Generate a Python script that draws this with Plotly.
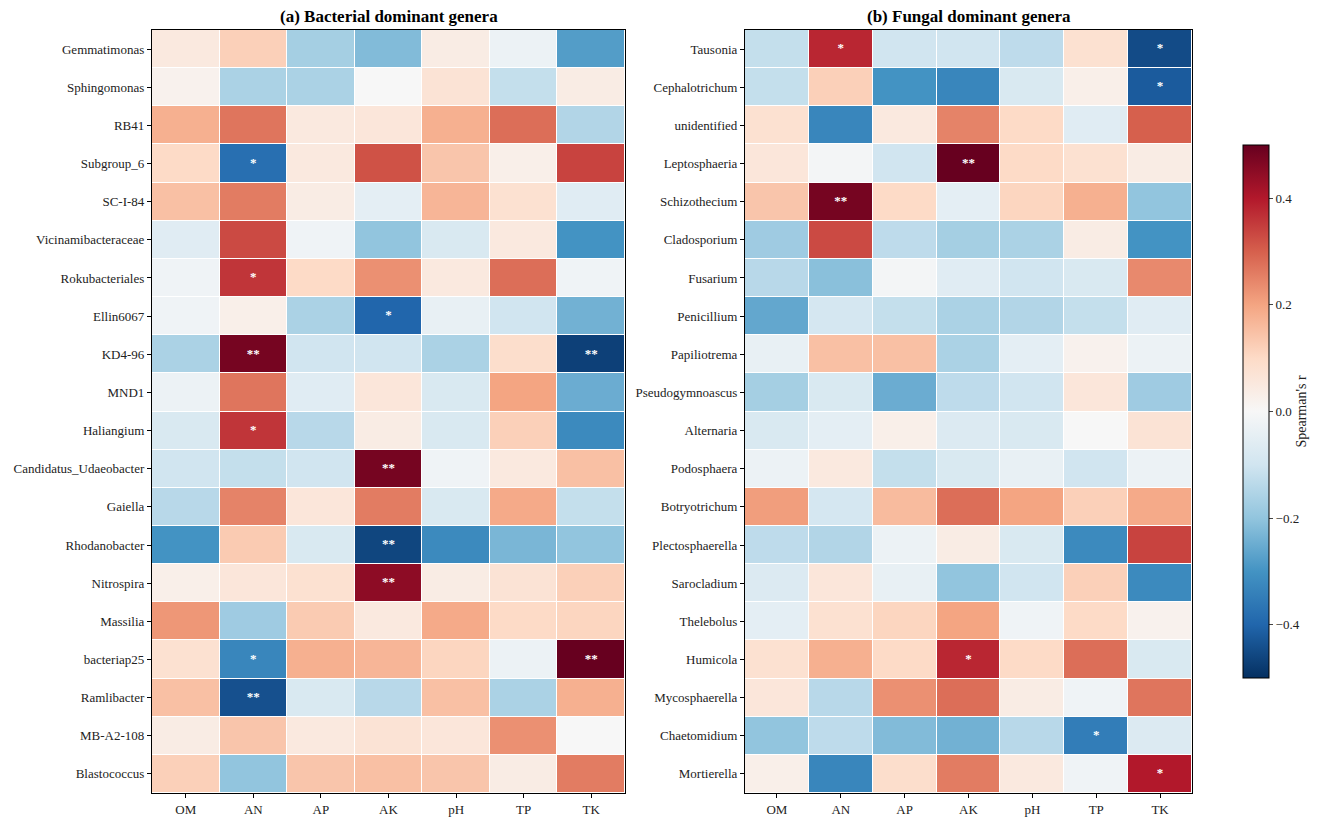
import plotly.graph_objects as go

factors = ["OM", "AN", "AP", "AK", "pH", "TP", "TK"]

bact_genera = ["Gemmatimonas", "Sphingomonas", "RB41", "Subgroup_6", "SC-I-84",
               "Vicinamibacteraceae", "Rokubacteriales", "Ellin6067", "KD4-96", "MND1",
               "Haliangium", "Candidatus_Udaeobacter", "Gaiella", "Rhodanobacter", "Nitrospira",
               "Massilia", "bacteriap25", "Ramlibacter", "MB-A2-108", "Blastococcus"]
bact_r = [
    [0.05, 0.12, -0.17, -0.22, 0.04, -0.03, -0.28],
    [0.02, -0.16, -0.16, 0.00, 0.07, -0.12, 0.04],
    [0.18, 0.27, 0.05, 0.06, 0.18, 0.28, -0.15],
    [0.10, -0.38, 0.05, 0.32, 0.14, 0.03, 0.34],
    [0.15, 0.26, 0.04, -0.05, 0.17, 0.08, -0.06],
    [-0.06, 0.33, -0.02, -0.20, -0.08, 0.05, -0.30],
    [-0.02, 0.36, 0.10, 0.23, 0.05, 0.28, -0.02],
    [-0.02, 0.03, -0.16, -0.40, -0.04, -0.10, -0.24],
    [-0.16, 0.48, -0.10, -0.10, -0.16, 0.09, -0.47],
    [-0.03, 0.27, -0.06, 0.06, -0.08, 0.20, -0.25],
    [-0.08, 0.36, -0.14, 0.04, -0.08, 0.12, -0.32],
    [-0.10, -0.12, -0.10, 0.48, -0.02, 0.05, 0.15],
    [-0.14, 0.25, 0.06, 0.26, -0.08, 0.19, -0.12],
    [-0.30, 0.13, -0.08, -0.46, -0.32, -0.23, -0.20],
    [0.03, 0.06, 0.08, 0.45, 0.04, 0.07, 0.12],
    [0.22, -0.18, 0.13, 0.05, 0.19, 0.10, 0.11],
    [0.08, -0.33, 0.18, 0.17, 0.11, -0.03, 0.50],
    [0.15, -0.44, -0.08, -0.14, 0.15, -0.16, 0.18],
    [0.04, 0.14, 0.05, 0.07, 0.06, 0.23, 0.00],
    [0.12, -0.20, 0.14, 0.15, 0.14, 0.04, 0.26],
]
bact_sig = [
    ["", "", "", "", "", "", ""],
    ["", "", "", "", "", "", ""],
    ["", "", "", "", "", "", ""],
    ["", "*", "", "", "", "", ""],
    ["", "", "", "", "", "", ""],
    ["", "", "", "", "", "", ""],
    ["", "*", "", "", "", "", ""],
    ["", "", "", "*", "", "", ""],
    ["", "**", "", "", "", "", "**"],
    ["", "", "", "", "", "", ""],
    ["", "*", "", "", "", "", ""],
    ["", "", "", "**", "", "", ""],
    ["", "", "", "", "", "", ""],
    ["", "", "", "**", "", "", ""],
    ["", "", "", "**", "", "", ""],
    ["", "", "", "", "", "", ""],
    ["", "*", "", "", "", "", "**"],
    ["", "**", "", "", "", "", ""],
    ["", "", "", "", "", "", ""],
    ["", "", "", "", "", "", ""],
]

fung_genera = ["Tausonia", "Cephalotrichum", "unidentified", "Leptosphaeria", "Schizothecium",
               "Cladosporium", "Fusarium", "Penicillium", "Papiliotrema", "Pseudogymnoascus",
               "Alternaria", "Podosphaera", "Botryotrichum", "Plectosphaerella", "Sarocladium",
               "Thelebolus", "Humicola", "Mycosphaerella", "Chaetomidium", "Mortierella"]
fung_r = [
    [-0.12, 0.38, -0.10, -0.10, -0.13, 0.08, -0.45],
    [-0.12, 0.12, -0.30, -0.33, -0.08, 0.03, -0.42],
    [0.08, -0.33, 0.05, 0.25, 0.10, -0.06, 0.30],
    [0.06, -0.01, -0.10, 0.50, 0.10, 0.08, 0.04],
    [0.14, 0.48, 0.10, -0.05, 0.11, 0.18, -0.20],
    [-0.18, 0.33, -0.13, -0.17, -0.16, 0.04, -0.30],
    [-0.14, -0.21, -0.01, -0.06, -0.10, -0.08, 0.24],
    [-0.26, -0.09, -0.12, -0.16, -0.15, -0.12, -0.06],
    [-0.04, 0.15, 0.15, -0.16, -0.05, 0.02, -0.03],
    [-0.17, -0.08, -0.25, -0.13, -0.10, 0.06, -0.18],
    [-0.08, -0.05, 0.03, -0.07, -0.08, 0.00, 0.07],
    [-0.03, 0.05, -0.12, -0.08, -0.04, -0.10, -0.03],
    [0.21, -0.09, 0.16, 0.28, 0.20, 0.12, 0.19],
    [-0.13, -0.15, -0.03, 0.04, -0.08, -0.32, 0.34],
    [-0.07, 0.06, -0.04, -0.20, -0.10, 0.12, -0.32],
    [-0.05, 0.08, 0.11, 0.20, -0.02, 0.10, 0.02],
    [0.08, 0.18, 0.10, 0.38, 0.10, 0.28, -0.08],
    [0.06, -0.14, 0.23, 0.28, 0.04, -0.02, 0.27],
    [-0.20, -0.13, -0.22, -0.24, -0.14, -0.35, -0.07],
    [0.03, -0.33, 0.09, 0.26, 0.05, -0.02, 0.40],
]
fung_sig = [
    ["", "*", "", "", "", "", "*"],
    ["", "", "", "", "", "", "*"],
    ["", "", "", "", "", "", ""],
    ["", "", "", "**", "", "", ""],
    ["", "**", "", "", "", "", ""],
    ["", "", "", "", "", "", ""],
    ["", "", "", "", "", "", ""],
    ["", "", "", "", "", "", ""],
    ["", "", "", "", "", "", ""],
    ["", "", "", "", "", "", ""],
    ["", "", "", "", "", "", ""],
    ["", "", "", "", "", "", ""],
    ["", "", "", "", "", "", ""],
    ["", "", "", "", "", "", ""],
    ["", "", "", "", "", "", ""],
    ["", "", "", "", "", "", ""],
    ["", "", "", "*", "", "", ""],
    ["", "", "", "", "", "", ""],
    ["", "", "", "", "", "*", ""],
    ["", "", "", "", "", "", "*"],
]

rdbu_r = ["#053061", "#2166ac", "#4393c3", "#92c5de", "#d1e5f0", "#f7f7f7",
          "#fddbc7", "#f4a582", "#d6604d", "#b2182b", "#67001f"]
colorscale = [[i / 10, c] for i, c in enumerate(rdbu_r)]

FONT = "Liberation Serif"
fig = go.Figure()


def add_panel(genera, r, sig, xa, ya, show_cb):
    fig.add_trace(go.Heatmap(
        z=r, x=factors, y=genera, xaxis=xa, yaxis=ya,
        colorscale=colorscale, zmin=-0.5, zmax=0.5, xgap=1, ygap=1,
        showscale=show_cb,
        colorbar=dict(
            x=1233 / 1326, xanchor="left", y=1 - 411.5 / 826, yanchor="middle",
            len=553 / 826, lenmode="fraction", thickness=26, outlinewidth=1,
            outlinecolor="black", ticks="outside", ticklen=4,
            tickvals=[-0.4, -0.2, 0, 0.2, 0.4], tickformat=".1f",
            tickfont=dict(family=FONT, size=13, color="#222"),
            title=dict(text="Spearman's r", side="right",
                       font=dict(family=FONT, size=14, color="#222")),
        ),
    ))
    xs, ys, ts = [], [], []
    for i, g in enumerate(genera):
        for j, f in enumerate(factors):
            if sig[i][j]:
                xs.append(f); ys.append(g); ts.append(sig[i][j])
    fig.add_trace(go.Scatter(
        x=xs, y=ys, text=ts, mode="text", xaxis=xa, yaxis=ya,
        textfont=dict(family=FONT, size=13, color="white", weight="bold"),
        textposition="middle center", showlegend=False, hoverinfo="skip",
    ))


add_panel(bact_genera, bact_r, bact_sig, "x", "y", True)
add_panel(fung_genera, fung_r, fung_sig, "x2", "y2", False)

ax_common = dict(showline=True, linecolor="black", linewidth=1.2, mirror=True,
                 ticks="outside", ticklen=4, tickcolor="black",
                 tickfont=dict(family=FONT, size=13, color="#222"),
                 showgrid=False, zeroline=False)
xr = [-0.5, len(factors) - 0.5]
yr = [len(bact_genera) - 0.5, -0.5]
yd = [1 - 793 / 826, 1 - 30 / 826]
fig.update_layout(
    width=1326, height=826,
    margin=dict(l=0, r=0, t=0, b=0),
    paper_bgcolor="white", plot_bgcolor="white",
    showlegend=False,
    xaxis=dict(domain=[152 / 1326, 625 / 1326], anchor="y", range=xr, **ax_common),
    yaxis=dict(domain=yd, anchor="x", range=yr, **ax_common),
    xaxis2=dict(domain=[745 / 1326, 1192 / 1326], anchor="y2", range=xr, **ax_common),
    yaxis2=dict(domain=yd, anchor="x2", range=yr, **ax_common),
    annotations=[
        dict(text="<b>(a) Bacterial dominant genera</b>", x=(152 + 625) / 2 / 1326, y=1 - 17 / 826,
             xref="paper", yref="paper", showarrow=False, xanchor="center", yanchor="middle",
             font=dict(family=FONT, size=17, color="black")),
        dict(text="<b>(b) Fungal dominant genera</b>", x=(745 + 1192) / 2 / 1326, y=1 - 17 / 826,
             xref="paper", yref="paper", showarrow=False, xanchor="center", yanchor="middle",
             font=dict(family=FONT, size=17, color="black")),
    ],
)

fig.write_html("out.html")
